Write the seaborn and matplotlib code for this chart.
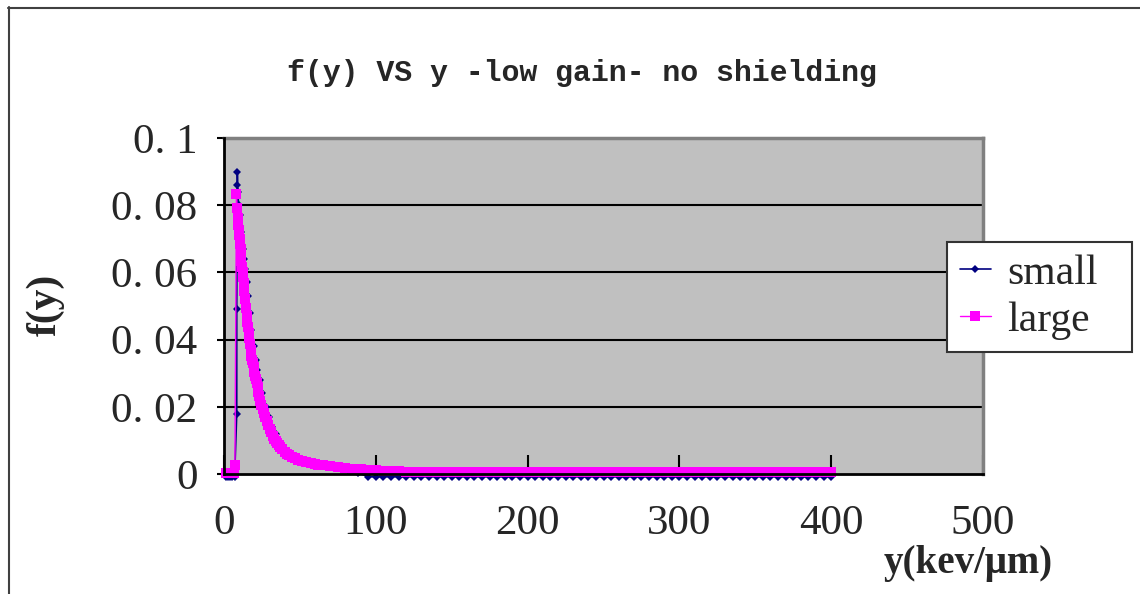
import matplotlib
matplotlib.use("Agg")
import matplotlib.pyplot as plt
import seaborn as sns
from matplotlib.lines import Line2D

# ---- text ----
title = "f(y) VS y -low gain- no shielding"
x_label = "y(kev/μm)"
y_label = "f(y)"

# ---- axes ----
x_ticks = [0, 100, 200, 300, 400, 500]
x_tick_labels = ["0", "100", "200", "300", "400", "500"]
y_ticks = [0, 0.02, 0.04, 0.06, 0.08, 0.1]
y_tick_labels = ["0", "0. 02", "0. 04", "0. 06", "0. 08", "0. 1"]

# ---- series "small": lineal energy y (keV/um) and f(y) ----
small_y = [1.0, 2.5, 4.0, 5.5, 7.0,
           8.4, 8.4, 8.7, 8.8, 9.1,
           9.6, 10.4, 11.2, 12.3, 13.1,
           13.9, 14.9, 15.8, 16.9, 18.1,
           19.6, 20.8, 22.0, 23.4, 25.2,
           27.4, 29.4, 31.6, 34.0, 38.5,
           42.5, 48.0, 54.0, 61.0, 72.0,
           82.0, 88.0,
           95, 100, 105, 110, 115, 120, 125, 130,
           135, 140, 145, 150, 155, 160, 165, 170,
           175, 180, 185, 190, 195, 200, 205, 210,
           215, 220, 225, 230, 235, 240, 245, 250,
           255, 260, 265, 270, 275, 280, 285, 290,
           295, 300, 305, 310, 315, 320, 325, 330,
           335, 340, 345, 350, 355, 360, 365, 370,
           375, 380, 385, 390, 395, 400]
small_f = [-0.0008, -0.0008, -0.0008, -0.0008, -0.0008,
           0.018, 0.049, 0.086, 0.090, 0.084,
           0.080, 0.077, 0.072, 0.067, 0.064,
           0.061, 0.057, 0.053, 0.048, 0.043,
           0.038, 0.034, 0.031, 0.028, 0.024,
           0.020, 0.017, 0.014, 0.012, 0.0087,
           0.0065, 0.0050, 0.0038, 0.0030, 0.0022,
           0.0012, 0.0004,
           -0.0008, -0.0008, -0.0008, -0.0008, -0.0008, -0.0008, -0.0008, -0.0008,
           -0.0008, -0.0008, -0.0008, -0.0008, -0.0008, -0.0008, -0.0008, -0.0008,
           -0.0008, -0.0008, -0.0008, -0.0008, -0.0008, -0.0008, -0.0008, -0.0008,
           -0.0008, -0.0008, -0.0008, -0.0008, -0.0008, -0.0008, -0.0008, -0.0008,
           -0.0008, -0.0008, -0.0008, -0.0008, -0.0008, -0.0008, -0.0008, -0.0008,
           -0.0008, -0.0008, -0.0008, -0.0008, -0.0008, -0.0008, -0.0008, -0.0008,
           -0.0008, -0.0008, -0.0008, -0.0008, -0.0008, -0.0008, -0.0008, -0.0008,
           -0.0008, -0.0008, -0.0008, -0.0008, -0.0008, -0.0008]

# ---- series "large" ----
large_y = [1.2, 2.0, 2.8, 3.6, 4.4,
           5.2, 6.0, 6.6, 7.2, 8.2,
           8.6, 8.9, 9.3, 9.6, 10.0,
           10.3, 10.6, 10.9, 11.2, 11.5,
           11.9, 12.2, 12.6, 13.0, 13.4,
           13.9, 14.4, 14.9, 15.3, 15.7,
           16.2, 16.6, 17.1, 17.6, 18.1,
           18.6, 19.0, 19.5, 20.0, 20.5,
           21.0, 21.5, 22.1, 22.7, 23.3,
           24.0, 24.7, 25.5, 26.2, 27.0,
           28.0, 29.0, 30.0, 31.0, 32.0,
           33.0, 34.0, 35.0, 36.0, 37.0,
           38.5, 40.0, 41.5, 43.0, 45.0,
           47.0, 49.0, 51.5, 54.0, 57.0,
           60.0, 62.0, 65.0, 70.0, 75.0,
           80.0, 85.0, 90.0, 95.0, 100.0,
           105, 110, 115, 120, 125, 130, 135, 140,
           145, 150, 155, 160, 165, 170, 175, 180,
           185, 190, 195, 200, 205, 210, 215, 220,
           225, 230, 235, 240, 245, 250, 255, 260,
           265, 270, 275, 280, 285, 290, 295, 300,
           305, 310, 315, 320, 325, 330, 335, 340,
           345, 350, 355, 360, 365, 370, 375, 380,
           385, 390, 395, 400]
large_f = [0.0004, 0.0004, 0.0004, 0.0004, 0.0004,
           0.0004, 0.0004, 0.0004, 0.0027, 0.0833,
           0.0793, 0.0763, 0.0740, 0.0725, 0.0712,
           0.0700, 0.0685, 0.0669, 0.0652, 0.0635,
           0.0617, 0.0600, 0.0585, 0.0569, 0.0545,
           0.0520, 0.0495, 0.0470, 0.0452, 0.0437,
           0.0420, 0.0405, 0.0388, 0.0370, 0.0352,
           0.0340, 0.0329, 0.0318, 0.0305, 0.0293,
           0.0282, 0.0271, 0.0258, 0.0245, 0.0231,
           0.0218, 0.0206, 0.0193, 0.0182, 0.0171,
           0.0158, 0.0146, 0.0135, 0.0124, 0.0114,
           0.0105, 0.0098, 0.0092, 0.0086, 0.0080,
           0.0073, 0.0066, 0.0061, 0.0057, 0.0052,
           0.0047, 0.0043, 0.0040, 0.0036, 0.0033,
           0.0030, 0.0028, 0.0026, 0.0023, 0.0020,
           0.0018, 0.0016, 0.0014, 0.0012, 0.0011,
           0.0010, 0.0009, 0.0008, 0.0007, 0.0007, 0.0007, 0.0007, 0.0007,
           0.0007, 0.0007, 0.0007, 0.0007, 0.0007, 0.0007, 0.0007, 0.0007,
           0.0007, 0.0007, 0.0007, 0.0007, 0.0007, 0.0007, 0.0007, 0.0007,
           0.0007, 0.0007, 0.0007, 0.0007, 0.0007, 0.0007, 0.0007, 0.0007,
           0.0007, 0.0007, 0.0007, 0.0007, 0.0007, 0.0007, 0.0007, 0.0007,
           0.0007, 0.0007, 0.0007, 0.0007, 0.0007, 0.0007, 0.0007, 0.0007,
           0.0007, 0.0007, 0.0007, 0.0007, 0.0007, 0.0007, 0.0007, 0.0007,
           0.0007, 0.0007, 0.0007, 0.0007]

sns.set_theme(style="white")
plt.rcParams["font.family"] = ["Liberation Serif", "DejaVu Serif"]

W, H = 1140, 594
fig = plt.figure(figsize=(W / 100, H / 100), dpi=100)
fig.patch.set_facecolor("white")
ax = fig.add_axes([224 / W, 1 - 474 / H, (983 - 224) / W, (474 - 138) / H])
ax.set_facecolor("#c0c0c0")

# interior horizontal gridlines
for v in y_ticks[1:-1]:
    ax.axhline(v, color="black", lw=1.5, zorder=1)

sns.lineplot(x=small_y, y=small_f, ax=ax, sort=False, estimator=None,
             color="#000080", linewidth=1.2, marker="D", markersize=3.8,
             markeredgewidth=0, label="small", clip_on=False, zorder=3)
sns.lineplot(x=large_y, y=large_f, ax=ax, sort=False, estimator=None,
             color="#ff00ff", linewidth=1.0, marker="s", markersize=6.6,
             markeredgewidth=0, label="large", clip_on=False, zorder=4)

ax.set_xlim(0, 500)
ax.set_ylim(0, 0.1)
ax.set_xticks(x_ticks)
ax.set_xticklabels(x_tick_labels)
ax.set_yticks(y_ticks)
ax.set_yticklabels(y_tick_labels)
ax.set_xlabel("")
ax.set_ylabel("")
ax.tick_params(axis="x", direction="in", length=14, width=1.5, color="black",
               pad=22, labelsize=31, bottom=True)
ax.tick_params(axis="y", direction="out", length=5, width=1.5, color="black",
               pad=14, labelsize=31, left=True)

for side in ("left", "bottom"):
    ax.spines[side].set_color("black")
    ax.spines[side].set_linewidth(2)
    ax.spines[side].set_zorder(5)
for side in ("top", "right"):
    ax.spines[side].set_color("#808080")
    ax.spines[side].set_linewidth(2.5)

leg = ax.legend(loc="upper left",
                bbox_to_anchor=(947 / W, 1 - 352 / H, 185 / W, 110 / H),
                bbox_transform=fig.transFigure, mode="expand", borderaxespad=0,
                fontsize=30, frameon=True, fancybox=False, framealpha=1,
                edgecolor="#333333", borderpad=0.3, labelspacing=0.2,
                handlelength=0.75, handletextpad=0.4)
leg.get_frame().set_linewidth(1.5)
leg.get_frame().set_facecolor("white")

fig.text(582 / W, 1 - 73 / H, title, ha="center", va="center",
         family="Liberation Mono", weight="bold", fontsize=21.5)
fig.text(46 / W, 1 - 305 / H, y_label, ha="center", va="center",
         rotation=90, weight="bold", fontsize=30)
fig.text(968 / W, 1 - 563 / H, x_label, ha="center", va="center",
         weight="bold", fontsize=28)

# outer chart frame
fig.add_artist(Line2D([8.5 / W, 8.5 / W], [0, 1 - 7 / H],
                      transform=fig.transFigure, color="#404040", lw=1.5))
fig.add_artist(Line2D([8 / W, 1], [1 - 7.5 / H, 1 - 7.5 / H],
                      transform=fig.transFigure, color="#404040", lw=1.5))

fig.savefig("out.png", dpi=100, facecolor="white")
